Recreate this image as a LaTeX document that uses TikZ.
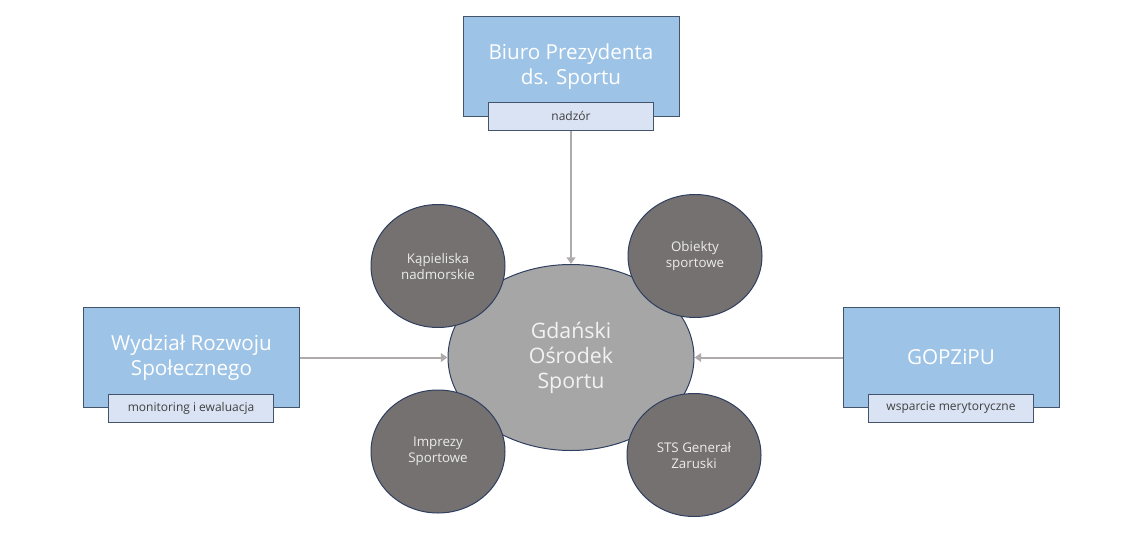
\documentclass[tikz,border=0pt]{standalone}
\usepackage{fontspec}
\setmainfont{Open Sans}
\usetikzlibrary{shapes.geometric,arrows.meta}
\definecolor{unitblue}{HTML}{9DC3E6}
\definecolor{unitedge}{HTML}{44546A}
\definecolor{rolefill}{HTML}{DAE3F3}
\definecolor{roletext}{HTML}{404040}
\definecolor{branchgray}{HTML}{767171}
\definecolor{branchedge}{HTML}{2F3F60}
\definecolor{hubgray}{HTML}{A6A6A6}
\definecolor{linkgray}{HTML}{AFABAB}
\begin{document}
\begin{tikzpicture}[x=0.75pt, y=-0.75pt,
    unit/.style={draw=unitedge, fill=unitblue, line width=0.75pt, minimum width=162pt, minimum height=75pt,
        inner sep=0pt, text=white, align=center, font=\fontsize{15.5}{18.75}\selectfont},
    role/.style={draw=unitedge, fill=rolefill, line width=0.75pt, minimum width=123.5pt, minimum height=21pt,
        inner sep=0pt, text=roletext, font=\fontsize{9}{11}\selectfont},
    branch/.style={ellipse, draw=branchedge, fill=branchgray, line width=0.75pt, minimum width=100.5pt,
        minimum height=92.25pt, inner sep=0pt, text=white!92!black, align=center, font=\fontsize{10}{12}\selectfont},
    hub/.style={ellipse, draw=branchedge, fill=hubgray, line width=0.75pt, minimum width=184.5pt,
        minimum height=139.5pt, inner sep=0pt, text=white!95!black, align=center, font=\fontsize{16}{18.75}\selectfont},
    link/.style={draw=linkgray, line width=1.5pt, -{Triangle[length=5pt,width=6.5pt]}}]
    \useasboundingbox (0,0) rectangle (1143,543);
    \node[hub] (gos) at (571,357.5) {Gdański\\Ośrodek\\Sportu};
    \foreach \name/\px/\py/\txt in {kapieliska/438/266/{Kąpieliska\\nadmorskie},
        obiekty/695/256/{Obiekty\\sportowe}, imprezy/438/451.5/{Imprezy\\Sportowe},
        zaruski/694/455/{STS Generał\\Zaruski}}
    {
        \node[branch] (\name) at (\px,\py) {\txt};
    }
    \node[unit] (biuro) at (571,66.5) {Biuro Prezydenta\\ds. Sportu};
    \node[role] (nadzor) at (571,116) {nadzór};
    \node[unit] (wydzial) at (191.5,357.5) {Wydział Rozwoju\\Społecznego};
    \node[role] (monitoring) at (191,408) {monitoring i ewaluacja};
    \node[unit] (gopzipu) at (951,357.5) {GOPZiPU};
    \node[role] (wsparcie) at (951,408) {wsparcie merytoryczne};
    \draw[link] (nadzor.south) -- (gos.north);
    \draw[link] (wydzial.east) -- (gos.west);
    \draw[link] (gopzipu.west) -- (gos.east);
\end{tikzpicture}
\end{document}
